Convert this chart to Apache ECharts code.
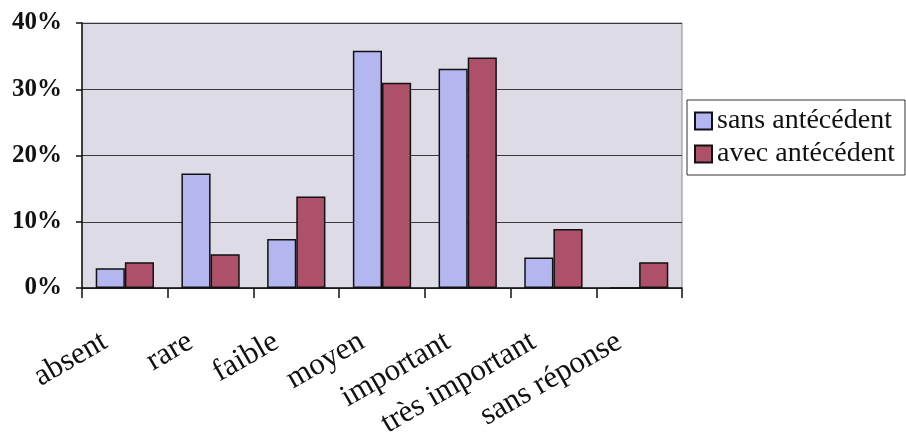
<!DOCTYPE html>
<html>
<head>
<meta charset="utf-8">
<script src="https://cdn.jsdelivr.net/npm/echarts@6/dist/echarts.min.js"></script>
<style>
  html, body { margin: 0; padding: 0; background: #ffffff; }
  #chart { width: 906px; height: 442px; }
</style>
</head>
<body>
<div id="chart"></div>
<script>
// Niveau de douleur, répartition en pourcentage
const categories = ['absent', 'rare', 'faible', 'moyen', 'important', 'très important', 'sans réponse'];
const sansAntecedent = [3.0, 17.3, 7.4, 35.8, 33.1, 4.6, 0];
const avecAntecedent = [3.9, 5.1, 13.8, 31.0, 34.8, 8.9, 3.9];
const seriesNames = ['sans antécédent', 'avec antécédent'];
const yTicks = { min: 0, max: 40, interval: 10 };

const serif = '"Liberation Serif", "Times New Roman", serif';

const chart = echarts.init(document.getElementById('chart'), null, { renderer: 'canvas' });

chart.setOption({
  backgroundColor: '#ffffff',
  animation: false,
  grid: {
    left: 82, right: 224, top: 23, bottom: 154,
    show: true,
    backgroundColor: '#dddbe6',
    borderColor: '#8a8a8a',
    borderWidth: 1
  },
  legend: {
    orient: 'vertical',
    left: 687, top: 100,
    padding: [6, 10, 6, 7],
    itemGap: 3,
    itemWidth: 17, itemHeight: 17,
    backgroundColor: '#ffffff',
    borderColor: '#333333',
    borderWidth: 1,
    borderRadius: 0,
    icon: 'rect',
    textStyle: { fontFamily: serif, fontSize: 28, color: '#111111', lineHeight: 30 },
    data: seriesNames
  },
  xAxis: {
    type: 'category',
    data: categories,
    axisLine: { lineStyle: { color: '#111111', width: 1.5 } },
    axisTick: { show: true, interval: 0, length: 10, lineStyle: { color: '#111111', width: 1.5 } },
    axisLabel: {
      interval: 0,
      rotate: 30,
      margin: 40,
      padding: [0, 23, 0, 0],
      fontFamily: serif,
      fontSize: 31,
      color: '#111111'
    }
  },
  yAxis: {
    type: 'value',
    min: yTicks.min, max: yTicks.max, interval: yTicks.interval,
    axisLine: { show: true, lineStyle: { color: '#111111', width: 1.5 } },
    axisTick: { show: true, length: 6, lineStyle: { color: '#111111', width: 1.5 } },
    axisLabel: {
      formatter: '{value}%',
      margin: 20,
      fontFamily: serif,
      fontSize: 25,
      fontWeight: 'bold',
      color: '#111111'
    },
    splitLine: { show: true, lineStyle: { color: '#3a3a3a', width: 1 } }
  },
  series: [
    {
      name: seriesNames[0],
      type: 'bar',
      data: sansAntecedent,
      barGap: '0%',
      barCategoryGap: '32%',
      itemStyle: { color: '#b4b6f0', borderColor: '#111111', borderWidth: 1.5 }
    },
    {
      name: seriesNames[1],
      type: 'bar',
      data: avecAntecedent,
      itemStyle: { color: '#ae506a', borderColor: '#111111', borderWidth: 1.5 }
    }
  ]
});
</script>
</body>
</html>
